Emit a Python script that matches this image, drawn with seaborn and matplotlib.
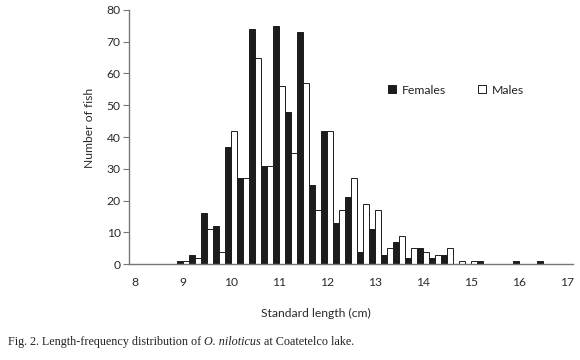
import matplotlib
matplotlib.use("Agg")
import matplotlib.pyplot as plt
import seaborn as sns
import pandas as pd

# ---- data ----
lengths = ["8", "8.25", "8.5", "8.75", "9", "9.25", "9.5", "9.75",
           "10", "10.25", "10.5", "10.75", "11", "11.25", "11.5", "11.75",
           "12", "12.25", "12.5", "12.75", "13", "13.25", "13.5", "13.75",
           "14", "14.25", "14.5", "14.75", "15", "15.25", "15.5", "15.75",
           "16", "16.25", "16.5", "16.75", "17"]
females = [0, 0, 0, 0, 1, 3, 16, 12,
           37, 27, 74, 31, 75, 48, 73, 25,
           42, 13, 21, 4, 11, 3, 7, 2,
           5, 2, 3, 0, 0, 1, 0, 0,
           1, 0, 1, 0, 0]
males = [0, 0, 0, 0, 1, 2, 11, 4,
         42, 27, 65, 31, 56, 35, 57, 17,
         42, 17, 27, 19, 17, 5, 9, 5,
         4, 3, 5, 1, 1, 0, 0, 0,
         0, 0, 0, 0, 0]
series_names = ["Females", "Males"]
x_labels = ["8", "9", "10", "11", "12", "13", "14", "15", "16", "17"]
y_ticks = [0, 10, 20, 30, 40, 50, 60, 70, 80]

df = pd.DataFrame({
    "length": lengths * 2,
    "count": females + males,
    "sex": [series_names[0]] * len(lengths) + [series_names[1]] * len(lengths),
})

sns.set_style("white")
plt.rcParams["font.family"] = ["Lato", "DejaVu Sans"]

fig = plt.figure(figsize=(5.8, 3.6), dpi=100)
ax = fig.add_axes([129 / 580, (360 - 264.3) / 360, 444 / 580, 254.5 / 360])

sns.barplot(data=df, x="length", y="count", hue="sex", order=lengths,
            hue_order=series_names, palette=["#1c1c1c", "white"],
            edgecolor="#1c1c1c", linewidth=0.7, width=0.92, ax=ax,
            saturation=1, legend=True)

handles, labels = ax.get_legend_handles_labels()
ax.get_legend().remove()

ax.set_xlim(-0.5, len(lengths) - 0.5)
ax.set_ylim(0, 80)
ax.set_yticks(y_ticks)
ax.set_yticklabels([str(v) for v in y_ticks])

major_pos = [lengths.index(l) for l in x_labels]
ax.set_xticks(major_pos)
ax.set_xticklabels(x_labels)
ax.set_xticks([i - 0.5 for i in range(len(lengths) + 1)], minor=True)
ax.tick_params(axis="x", which="major", length=0, pad=9, labelsize=8.7, colors="#2a2a2a")
ax.tick_params(axis="x", which="minor", length=4, width=0.8, color="#777777", direction="out")
ax.tick_params(axis="y", length=4, width=0.8, color="#777777", labelsize=8.7,
               labelcolor="#2a2a2a", pad=2, left=True)

for s in ["top", "right"]:
    ax.spines[s].set_visible(False)
for s in ["left", "bottom"]:
    ax.spines[s].set_color("#777777")
    ax.spines[s].set_linewidth(1.0)

ax.set_xlabel("Standard length (cm)", fontsize=8.7, color="#2a2a2a")
ax.xaxis.set_label_coords((316 - 129) / 444, -(308 - 264.3) / 254.5)
ax.set_ylabel("Number of fish", fontsize=8.7, color="#2a2a2a")
ax.yaxis.set_label_coords(-(129 - 95) / 444, (264.3 - 128) / 254.5)

fig.legend(handles, labels, ncol=2, frameon=False, loc="center left",
           bbox_to_anchor=(377 / 580, (360 - 90) / 360),
           handlelength=0.65, handleheight=0.65, handletextpad=0.5,
           columnspacing=2.6, fontsize=8.8, labelcolor="#222222")

# caption with italic species name
fig.canvas.draw()
r = fig.canvas.get_renderer()
cap_y = (360 - 345) / 360
serif = ["Liberation Serif", "DejaVu Serif"]
parts = [("Fig. 2. Length-frequency distribution of ", "normal"),
         ("O. niloticus", "italic"),
         (" at Coatetelco lake.", "normal")]
x0 = 8
for txt, style in parts:
    t = fig.text(x0 / 580, cap_y, txt, family=serif, style=style,
                 fontsize=8.7, color="#222222", va="baseline", ha="left")
    bb = t.get_window_extent(renderer=r)
    x0 = bb.x1

fig.savefig("out.png", dpi=100)
